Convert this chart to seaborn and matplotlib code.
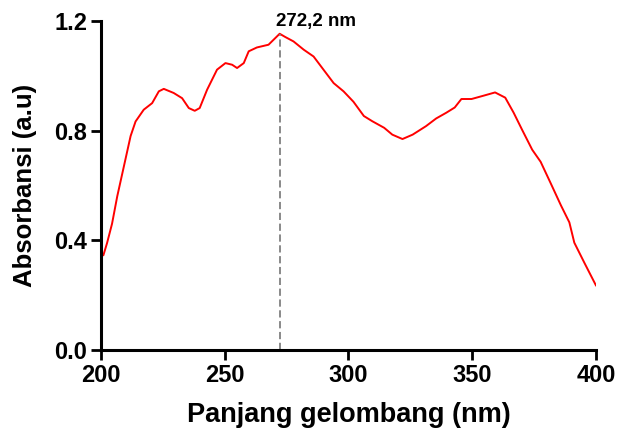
import matplotlib
matplotlib.use("Agg")
import matplotlib.pyplot as plt
import seaborn as sns
import pandas as pd

wavelength = [200, 201, 202.5, 204.5, 206.6, 209.3, 212, 214, 217.3, 220.7, 223.4, 225.4,
              229.4, 232.8, 235.5, 237.9, 239.9, 242.9, 246.9, 250.3, 253, 255, 257.7,
              259.7, 263, 267.7, 270.4, 272.2, 274.5, 277.8, 281.9, 285.9, 289.9, 294,
              298, 302, 306.2, 309.6, 314.4, 317.7, 321.8, 325.9, 331.3, 335.4, 339.5,
              342.9, 345.6, 349.7, 354.5, 359.2, 363.3, 366.7, 370.1, 374.2, 377.6,
              381.7, 385.8, 389.2, 391.2, 395.3, 400]
absorbance = [0.353, 0.345, 0.39, 0.46, 0.56, 0.67, 0.78, 0.833, 0.876, 0.90, 0.943, 0.952,
              0.937, 0.918, 0.882, 0.872, 0.882, 0.949, 1.022, 1.046, 1.04, 1.028, 1.046,
              1.089, 1.103, 1.113, 1.137, 1.153, 1.141, 1.125, 1.095, 1.07, 1.022, 0.973,
              0.943, 0.905, 0.853, 0.834, 0.81, 0.785, 0.769, 0.785, 0.816, 0.844, 0.865,
              0.884, 0.915, 0.915, 0.927, 0.939, 0.92, 0.865, 0.803, 0.73, 0.686,
              0.607, 0.527, 0.465, 0.391, 0.317, 0.234]
peak_wl = 272.2
peak_abs = 1.153
peak_label = "272,2 nm"
xticks = [200, 250, 300, 350, 400]
yticks = [0.0, 0.4, 0.8, 1.2]
ytick_labels = ["0.0", "0.4", "0.8", "1.2"]

sns.set_style("ticks")
plt.rcParams['font.family'] = ['Liberation Sans', 'DejaVu Sans']
plt.rcParams['font.weight'] = 'bold'
plt.rcParams['text.color'] = 'black'
plt.rcParams['axes.labelcolor'] = 'black'

df = pd.DataFrame({"wl": wavelength, "a": absorbance})

fig = plt.figure(figsize=(6.19, 4.44), dpi=100)
ax = fig.add_axes([0.163, 0.212, 0.8, 0.741])
sns.lineplot(data=df, x="wl", y="a", ax=ax, color="#ff0000", linewidth=1.4)
ax.plot([peak_wl, peak_wl], [0, peak_abs], color="#808080", linestyle=(0, (4, 2)), linewidth=1.3)
ax.text(peak_wl - 1.5, 1.165, peak_label, fontsize=13.5, fontweight='bold', ha='left',
        va='bottom', color='black')

ax.set_xlim(200, 400)
ax.set_ylim(0, 1.2)
ax.set_xticks(xticks)
ax.set_yticks(yticks)
ax.set_yticklabels(ytick_labels)
ax.tick_params(axis='both', labelsize=17, width=2, length=7, color='black', labelcolor='black', pad=3)
for lab in ax.get_xticklabels() + ax.get_yticklabels():
    lab.set_fontweight('bold')
for s in ['top', 'right']:
    ax.spines[s].set_visible(False)
for s in ['left', 'bottom']:
    ax.spines[s].set_linewidth(2.2)
    ax.spines[s].set_color('black')
ax.set_xlabel("Panjang gelombang (nm)", fontsize=19.5, fontweight='bold', labelpad=11)
ax.set_ylabel("Absorbansi (a.u)", fontsize=18.5, fontweight='bold', labelpad=12)

fig.savefig("out.png", dpi=100)
